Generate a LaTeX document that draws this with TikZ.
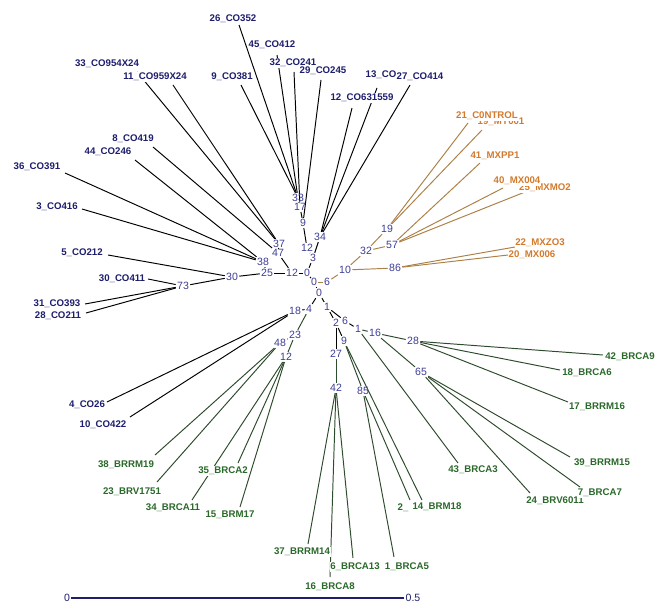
\documentclass[tikz,border=0pt]{standalone}
\usepackage{fontspec}
\setmainfont{Liberation Sans}
\definecolor{cotxt}{RGB}{30,30,110}
\definecolor{bstxt}{RGB}{60,60,150}
\definecolor{mxtxt}{RGB}{212,122,44}
\definecolor{brtxt}{RGB}{42,105,42}
\definecolor{mxline}{RGB}{172,128,70}
\definecolor{brline}{RGB}{45,75,45}
\pgfdeclarelayer{bg}
\pgfsetlayers{bg,main}

\begin{document}
\begin{tikzpicture}[
    x=0.02cm, y=-0.02cm,
    bs/.style={font=\fontsize{6}{6}\selectfont, text=bstxt, inner sep=0.6pt},
    co/.style={font=\bfseries\fontsize{5.5}{6}\selectfont, text=cotxt,
               fill=white, inner sep=0.4pt},
    mx/.style={co, text=mxtxt},
    br/.style={co, text=brtxt},
    branch/.style={line width=0.55pt, draw=black},
    mxbranch/.style={branch, draw=mxline},
    brbranch/.style={branch, draw=brline}
  ]
  \useasboundingbox (0,0) rectangle (655,605);

  % bootstrap values at the inner nodes
  \foreach \n/\x/\y/\v in {c0a/307/273/0, c0b/314/282/0, c0c/319/293/0,
      n3/313/258/3, n12a/307/248/12, n9/303/223/9, n17/300/207/17,
      n33/298/198/33, n34/320/237/34, n12b/292/273/12, n47/278/253/47,
      n37/279/244/37, n38/263/262/38, n25/267/273/25, n30/232/277/30,
      n73/183/286/73, n4/309/309/4, n18/295/311/18, n23/295/335/23,
      n48/280/343/48, n12c/286/357/12, n1/327/307/1, n2/336/323/2,
      n6b/345/321/6, n1b/358/329/1, n16/375/333/16, n28/413/341/28,
      n65/421/372/65, n9b/344/341/9, n27/336/354/27, n42/336/388/42,
      n85/363/391/85, n6/327/282/6, n10/345/270/10, n32/366/251/32,
      n19/387/229/19, n57/392/245/57, n86/395/268/86} {
    \node[bs] (\n) at (\x,\y) {\v};
  }

  \begin{pgfonlayer}{bg}
    \foreach \a/\b in {c0a/c0b, c0b/c0c, c0a/n3, c0a/n12b, c0c/n4,
        n3/n12a, n3/n34, n12a/n9, n9/n17, n17/n33, n12b/n47, n12b/n25,
        n47/n37, n25/n38, n25/n30, n30/n73, n4/n18, c0c/n1, n1/n2,
        n1/n6b, n2/n27, n2/n9b, n6b/n1b}
      \draw[branch] (\a) -- (\b);
    \foreach \a/\b in {c0b/n6, n6/n10, n10/n32, n10/n86, n32/n19, n32/n57}
      \draw[mxbranch] (\a) -- (\b);
    \foreach \a/\b in {n4/n23, n23/n48, n23/n12c, n27/n42, n9b/n85,
        n1b/n16, n16/n28, n16/n65}
      \draw[brbranch] (\a) -- (\b);
  \end{pgfonlayer}

  % CO leaves
  \foreach \i/\ex/\ey/\lx/\ly/\t/\tg in {
      26/239/25/233/19/26\_CO352/n33, 45/277/55/272/45/45\_CO412/n33,
      32/294/72/293/63/32\_CO241/n17, 29/321/80/323/71/29\_CO245/n9,
      9/241/85/232/77/9\_CO381/n33, 13/377/88/381/75/13\_CO/n34,
      27/410/85/420/77/27\_CO414/n34, 12/352/108/362/98/12\_CO631559/n34,
      33/137/72/107/64/33\_CO954X24/n37, 11/173/85/155/77/11\_CO959X24/n37,
      8/153/147/133/139/8\_CO419/n47, 44/135/160/108/152/44\_CO246/n38,
      36/65/173/37/167/36\_CO391/n38, 3/82/209/57/207/3\_CO416/n38,
      5/108/255/82/253/5\_CO212/n30, 30/148/279/122/279/30\_CO411/n73,
      31/85/304/57/304/31\_CO393/n73, 28/86/313/58/316/28\_CO211/n73,
      4/107/402/87/405/4\_CO26/n18, 10/130/417/103/425/10\_CO422/n18} {
    \coordinate (e\i) at (\ex,\ey);
    \node[co] (l\i) at (\lx,\ly) {\t};
    \begin{pgfonlayer}{bg}
      \draw[branch] (e\i) -- (\tg);
    \end{pgfonlayer}
  }

  % MX leaves
  \foreach \i/\ex/\ey/\lx/\ly/\t/\tg in {
      19/482/130/501/122/19\_MY001/n19, 21/468/123/487/116/21\_C0NTROL/n19,
      41/480/163/495/156/41\_MXPP1/n57, 25/525/192/545/188/25\_MXMO2/n57,
      40/503/188/517/181/40\_MX004/n57, 22/515/247/540/243/22\_MXZO3/n86,
      20/508/255/532/255/20\_MX006/n86} {
    \coordinate (e\i) at (\ex,\ey);
    \node[mx] (l\i) at (\lx,\ly) {\t};
    \begin{pgfonlayer}{bg}
      \draw[mxbranch] (e\i) -- (\tg);
    \end{pgfonlayer}
  }

  % BR leaves
  \foreach \i/\ex/\ey/\lx/\ly/\t/\tg in {
      38/155/455/126/465/38\_BRRM19/n48, 23/157/482/132/492/23\_BRV1751/n48,
      35/238/463/223/471/35\_BRCA2/n12c, 34/192/500/173/508/34\_BRCA11/n12c,
      15/240/507/230/515/15\_BRM17/n12c, 37/308/544/302/552/37\_BRRM14/n42,
      6/353/558/355/567/6\_BRCA13/n42, 16/330/577/330/587/16\_BRCA8/n42,
      1/394/557/407/567/1\_BRCA5/n85, 2/410/500/403/508/2\_/n85,
      14/422/500/437/507/14\_BRM18/n9b, 43/458/463/473/470/43\_BRCA3/n1b,
      24/530/493/555/501/24\_BRV6011/n65, 7/580/487/600/493/7\_BRCA7/n65,
      39/570/457/602/463/39\_BRRM15/n65, 17/568/402/597/407/17\_BRRM16/n28,
      18/560/370/587/373/18\_BRCA6/n28, 42/603/355/630/357/42\_BRCA9/n28} {
    \coordinate (e\i) at (\ex,\ey);
    \node[br] (l\i) at (\lx,\ly) {\t};
    \begin{pgfonlayer}{bg}
      \draw[brbranch] (e\i) -- (\tg);
    \end{pgfonlayer}
  }

  % scale bar
  \node[bs, text=cotxt] (s0) at (67,598) {0};
  \node[bs, text=cotxt] (s5) at (413,598) {0.5};
  \draw[line width=0.6pt, cotxt] (s0) -- (s5);
\end{tikzpicture}
\end{document}
